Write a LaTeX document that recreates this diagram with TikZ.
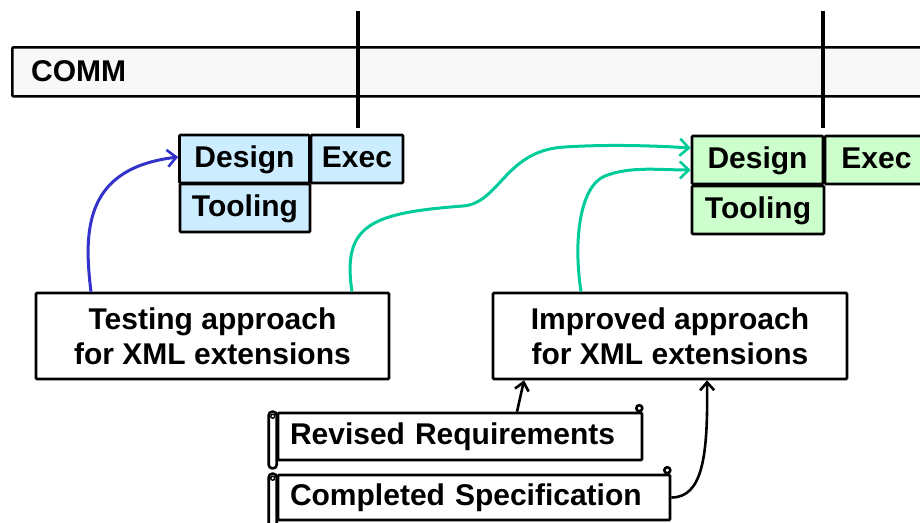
\documentclass[tikz,border=0pt]{standalone}
\usepackage{fontspec}
\setmainfont{Liberation Sans}
\usetikzlibrary{arrows.meta,calc}
\definecolor{barfill}{HTML}{F8F8F8}
\definecolor{bluefill}{HTML}{CCECFF}
\definecolor{greenfill}{HTML}{CCFFCC}
\definecolor{bluearrow}{HTML}{3333CC}
\definecolor{greenarrow}{HTML}{00CC99}
\begin{document}
\begin{tikzpicture}[x=1pt,y=-1pt,
  every node/.style={font=\fontsize{30}{35}\selectfont\bfseries, inner sep=0pt},
  box/.style={draw=black, line width=2.6pt, rounded corners=1pt},
  cell/.style={box, minimum height=48pt, text height=22pt, text depth=6pt},
  bluebox/.style={cell, fill=bluefill},
  greenbox/.style={cell, fill=greenfill},
  notebox/.style={box, fill=white, align=center, minimum height=86pt},
  scrollbody/.style={box, fill=white, align=left, inner xsep=12pt,
    text height=22pt, text depth=6pt},
  scrolledge/.style={line width=2.6pt, fill=white},
  milestone/.style={line width=3.6pt},
  colourlink/.style={line width=3pt,
    -{Straight Barb[length=9pt,width=17pt,line width=2.6pt]}},
  blacklink/.style={line width=2.6pt,
    -{Straight Barb[length=8pt,width=14pt,line width=2.6pt]}},
]
\clip (0,0) rectangle (920,522);

% COMM swimlane
\node[box, fill=barfill, minimum width=930pt, minimum height=49pt,
  anchor=north west] (comm) at (11,46) {};
\node[anchor=west] (commlabel) at (31,71) {COMM};

% milestone markers
\coordinate (m1top) at (358,11);
\coordinate (m1bot) at (358,128);
\coordinate (m2top) at (823,11);
\coordinate (m2bot) at (823,128);
\draw[milestone] (m1top) -- (m1bot);
\draw[milestone] (m2top) -- (m2bot);

% first iteration
\node[bluebox, minimum width=130pt] (bd) at (244.5,159) {Design};
\node[bluebox, minimum width=92pt]  (be) at (357,159) {Exec};
\node[bluebox, minimum width=130pt] (bt) at (245,208) {Tooling};

% second iteration
\node[greenbox, minimum width=131pt] (gd) at (757.5,160) {Design};
\node[greenbox, minimum width=103pt] (ge) at (876.5,160) {Exec};
\node[greenbox, minimum width=132pt] (gt) at (758,210) {Tooling};

% approach notes
\node[notebox, minimum width=353pt] (tst) at (212.5,336)
  {Testing approach\\for XML extensions};
\node[notebox, minimum width=354pt] (imp) at (670,336)
  {Improved approach\\for XML extensions};

% scroll documents
\node[scrollbody, text width=340pt, minimum height=47pt] (rr) at (460,436.5)
  {Revised Requirements};
\draw[scrolledge, rounded corners=3.5pt] ([xshift=-8pt]rr.north west)
  rectangle ([yshift=-7pt]rr.south west);
\draw[line width=1.4pt] ([xshift=-4pt,yshift=-4.5pt]rr.north west) circle (2pt);
\draw[scrolledge] ([xshift=-4pt,yshift=3.5pt]rr.north east) circle (3pt);

\node[scrollbody, text width=368pt, minimum height=45pt] (cs) at (474,497.5)
  {Completed Specification};
\draw[scrolledge, rounded corners=3.5pt] ([xshift=-8pt]cs.north west)
  rectangle ([yshift=-7pt]cs.south west);
\draw[line width=1.4pt] ([xshift=-4pt,yshift=-4.5pt]cs.north west) circle (2pt);
\draw[scrolledge] ([xshift=-4pt,yshift=3.5pt]cs.north east) circle (3pt);

% connectors
\draw[colourlink, draw=bluearrow] ([xshift=-121.5pt]tst.north)
  .. controls (83,228) and (86,168) .. ([yshift=2pt]bd.west);
\draw[colourlink, draw=greenarrow] ([xshift=139.5pt]tst.north)
  .. controls (342,225) and (370,213) .. (463,206)
  .. controls (500,203) and (505,150) .. (565,147)
  .. controls (610,144) and (660,146) .. ([yshift=12pt]gd.west);
\draw[colourlink, draw=greenarrow] ([xshift=-89pt]imp.north)
  .. controls (573,240) and (580,186) .. (605,176)
  .. controls (630,166) and (660,170) .. ([yshift=-10pt]gd.west);
\draw[blacklink] ([xshift=57pt]rr.north) -- ([xshift=-146pt]imp.south);
\draw[blacklink] (cs.east)
  .. controls (703,497.5) and (708,455) .. ([xshift=37pt]imp.south);
\end{tikzpicture}
\end{document}
